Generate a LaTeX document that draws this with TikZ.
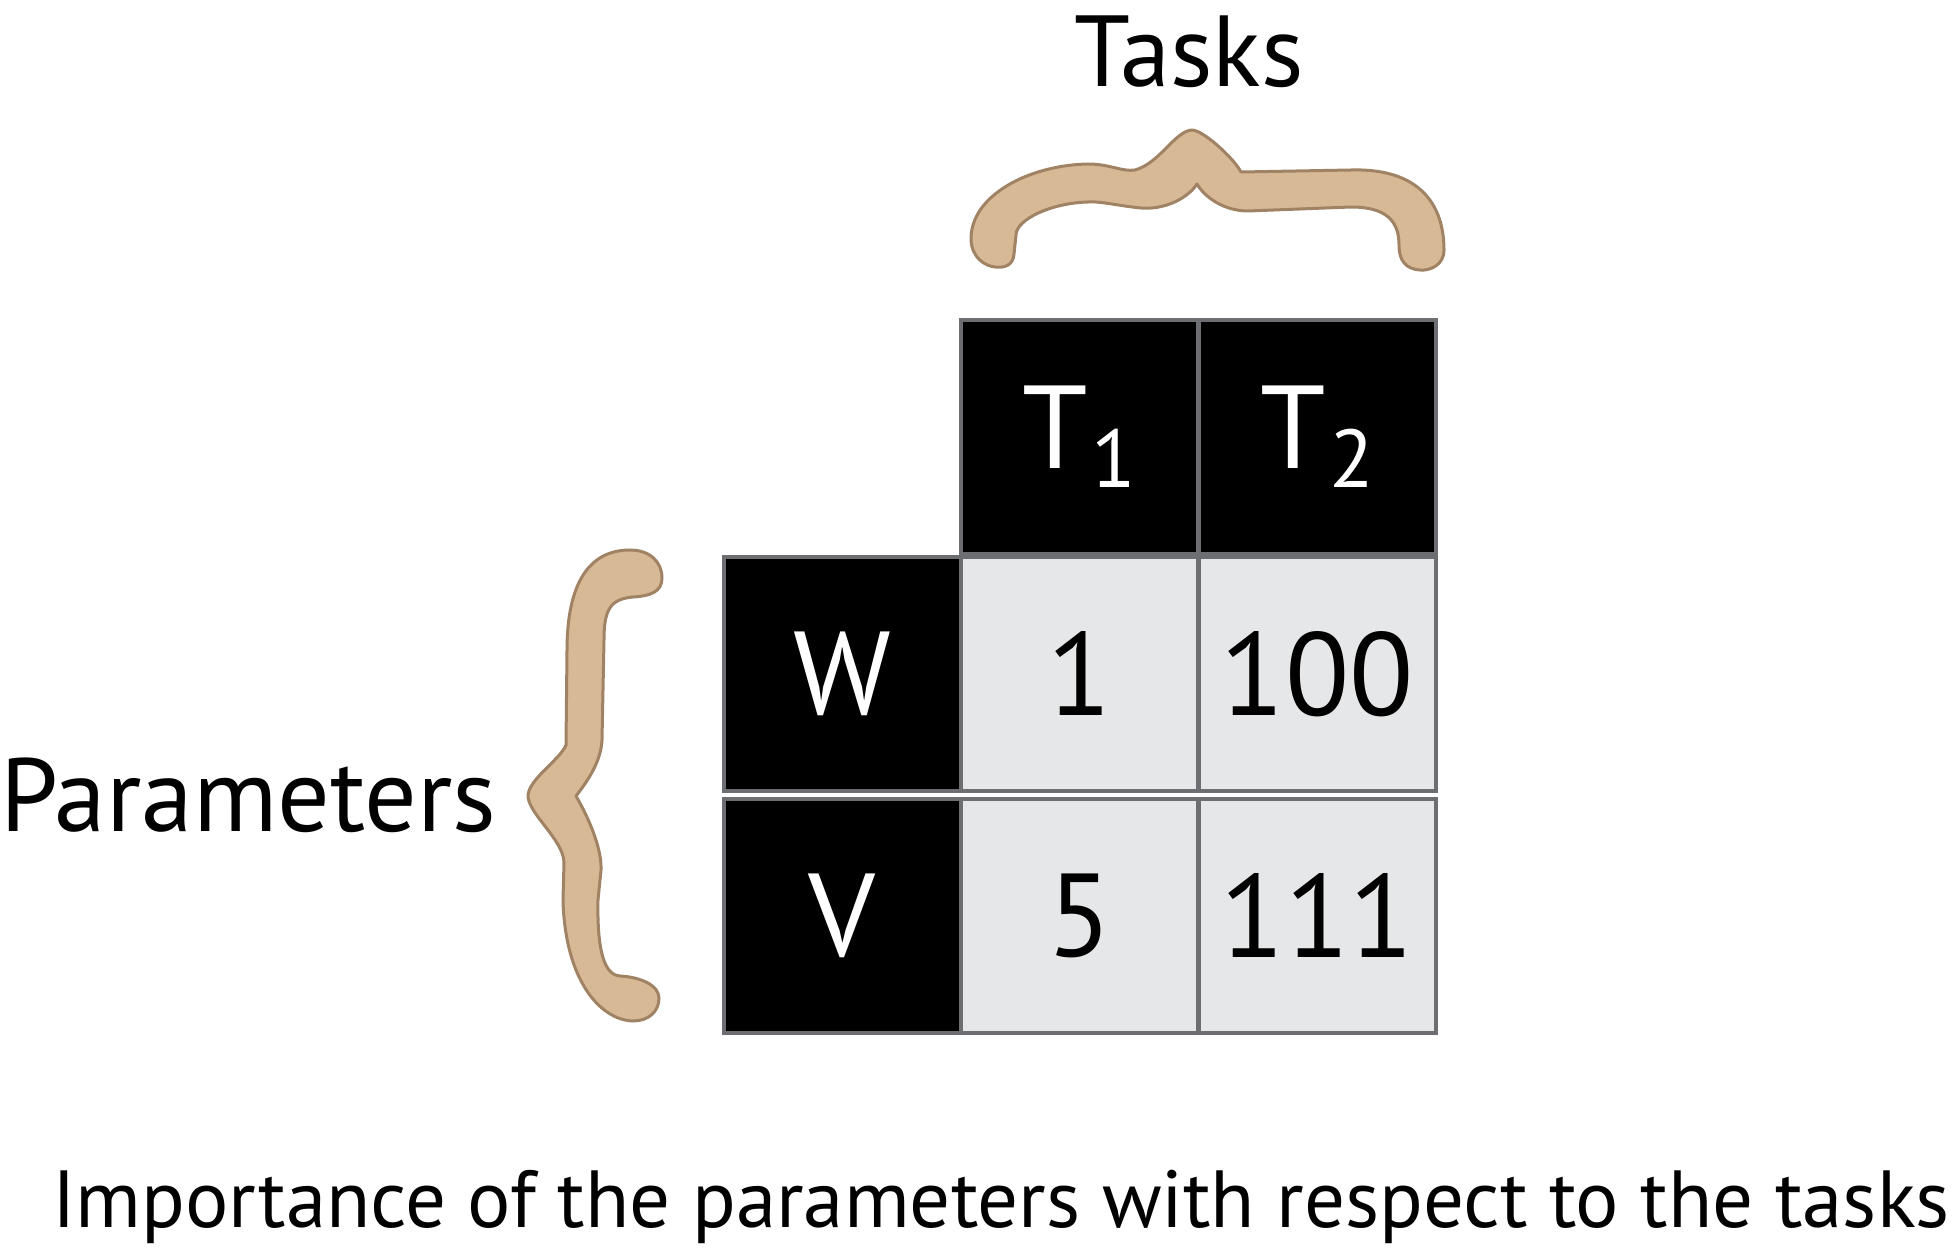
\documentclass[tikz,border=0pt]{standalone}
\usepackage{fontspec}
\setmainfont{PT Sans}
\definecolor{bracetan}{RGB}{215,185,150}
\definecolor{bracerim}{RGB}{160,130,100}
\definecolor{cellgray}{RGB}{230,231,232}
\definecolor{rulegray}{RGB}{109,110,113}
\newcommand{\tsub}[1]{\kern3pt\raisebox{-19pt}{\fontsize{82}{82}\selectfont #1}}

\begin{document}
\begin{tikzpicture}[x=1pt, y=-1pt,
    cell/.style={rectangle, draw=rulegray, line width=4pt, minimum width=237pt, minimum height=234pt, inner sep=0pt, fill=cellgray, font=\fontsize{118}{118}\selectfont},
    head/.style={cell, fill=black, text=white},
    brace/.style={fill=bracetan, draw=bracerim, line width=3pt, line join=round},
    grouplabel/.style={inner sep=0pt, anchor=base}
]
\useasboundingbox (0,0) rectangle (1953,1249);

% Header row (tasks)
\node[head] (t1) at (1079.3,437) {T\tsub{1}};
\node[head] (t2) at (1317.2,437) {T\tsub{2}};

% Parameter rows
\node[head] (w) at (842,673.8) {W};
\node[cell] (w1) at (1079.3,673.8) {1};
\node[cell] (w2) at (1317.2,673.8) {100};

\node[head] (v) at (842,915.5) {V};
\node[cell] (v1) at (1079.3,915.5) {5};
\node[cell] (v2) at (1317.2,915.5) {111};

% Top brace
\draw[brace] (1014,254) .. controls (1013,266) and (1004,268) .. (995,267)
  .. controls (985,266) and (972,258) .. (971,240)
  .. controls (970,195) and (1030,165) .. (1088,164)
  .. controls (1110,164) and (1122,172) .. (1135,170)
  .. controls (1160,163) and (1175,131) .. (1192,130)
  .. controls (1205,131) and (1235,160) .. (1241,172)
  -- (1351,170)
  .. controls (1420,168) and (1444,205) .. (1444,250)
  .. controls (1444,265) and (1430,271) .. (1420,270)
  .. controls (1405,269) and (1399,260) .. (1399,245)
  .. controls (1399,220) and (1385,207) .. (1351,207)
  -- (1248,211)
  .. controls (1225,211) and (1205,198) .. (1197,184)
  .. controls (1188,198) and (1165,210) .. (1141,208)
  .. controls (1120,206) and (1100,201) .. (1088,202)
  .. controls (1050,203) and (1016,220) .. (1016,235)
  -- cycle;

% Left brace
\draw[brace] (630,550) .. controls (650,550) and (662,562) .. (662,578)
  .. controls (662,592) and (650,596) .. (633,597)
  .. controls (610,599) and (604,610) .. (604,640)
  -- (602,740)
  .. controls (601,760) and (590,778) .. (576,796)
  .. controls (590,820) and (602,850) .. (601,870)
  -- (598,900)
  .. controls (597,950) and (604,975) .. (620,976)
  .. controls (640,977) and (659,985) .. (659,998)
  .. controls (659,1012) and (648,1021) .. (633,1021)
  .. controls (600,1020) and (565,980) .. (563,900)
  -- (564,862)
  .. controls (563,840) and (530,815) .. (528,797)
  .. controls (527,780) and (560,760) .. (566,745)
  -- (567,650)
  .. controls (567,590) and (585,550) .. (630,550)
  -- cycle;

% Labels
\node[grouplabel, font=\fontsize{101}{101}\selectfont] (tasks) at (1189,87) {Tasks};
\node[grouplabel, anchor=base west, font=\fontsize{104}{104}\selectfont] (params) at (0,831) {Parameters};
\node[grouplabel, font=\fontsize{81}{81}\selectfont] (caption) at (1001,1227) {Importance of the parameters with respect to the tasks};

\end{tikzpicture}
\end{document}
